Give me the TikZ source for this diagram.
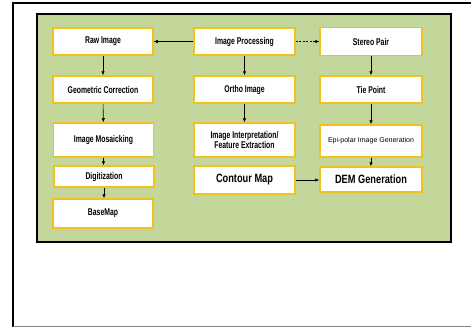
\documentclass[tikz,border=0pt]{standalone}
\usepackage{fontspec}
\setmainfont{Liberation Sans}
\newfontfamily\narrowfont{Liberation Sans}[FakeStretch=0.7]
\newfontfamily\bignarrow{Liberation Sans}[FakeStretch=0.77]
\usetikzlibrary{arrows.meta}
\definecolor{panelgreen}{HTML}{C4D79B}
\definecolor{boxyellow}{HTML}{F3C11F}
\begin{document}
\begin{tikzpicture}[x=1pt,y=-1pt,
  box/.style={draw=boxyellow,line width=1.5pt,fill=white,inner sep=0pt,align=center,
    font=\narrowfont\fontsize{9.8}{10.5}\selectfont\bfseries},
  bigbox/.style={box,font=\bignarrow\fontsize{12}{13}\selectfont\bfseries},
  smallbox/.style={box,font=\fontsize{7}{8}\selectfont},
  arr/.style={-{Latex[length=4pt,width=3.5pt]},line width=0.6pt},
  darr/.style={arr,dashed,dash pattern=on 2pt off 1.5pt}]
\useasboundingbox (0,0) rectangle (471,327);
% outer frame
\draw[line width=1.2pt] (13,327) -- (13,3) -- (471,3);
\draw[gray,line width=1pt] (13,326) -- (471,326);
% panel
\draw[line width=1.6pt,fill=panelgreen] (37,14) rectangle (451,242);
% column 1
\node[box,minimum width=100pt,minimum height=27pt] (raw) at (103,41.5) {Raw Image};
\node[box,minimum width=100pt,minimum height=27pt] (geo) at (103,89.5) {Geometric Correction};
\node[box,minimum width=100pt,minimum height=34pt] (mos) at (103.5,140) {Image Mosaicking};
\node[box,minimum width=100pt,minimum height=21pt] (dig) at (104,176.5) {Digitization};
\node[box,minimum width=100pt,minimum height=29pt] (base) at (103,213.5) {BaseMap};
% column 2
\node[box,minimum width=101pt,minimum height=27pt] (proc) at (244.5,41.5) {Image Processing};
\node[box,minimum width=101pt,minimum height=27pt] (ortho) at (244.5,89.5) {Ortho Image};
\node[box,minimum width=101pt,minimum height=34pt] (interp) at (244.5,140) {Image Interpretation/\\Feature Extraction};
\node[bigbox,minimum width=101pt,minimum height=28pt] (cont) at (244.5,180) {Contour Map};
% column 3
\node[box,minimum width=102pt,minimum height=28pt] (stereo) at (371,41.5) {Stereo Pair};
\node[box,minimum width=102pt,minimum height=27pt] (tie) at (371,89.5) {Tie Point};
\node[smallbox,minimum width=102pt,minimum height=32pt] (epi) at (371,141) {Epi-polar Image Generation};
\node[bigbox,minimum width=102pt,minimum height=25pt] (dem) at (371,179.5) {DEM Generation};
% connectors
\draw[arr] (proc) -- (raw);
\draw[darr] (proc) -- (stereo);
\draw[arr] (raw) -- (geo);
\draw[arr] (geo) -- (mos);
\draw[arr] (mos.south) -- (mos.south |- dig.north);
\draw[arr] (dig.south) -- (dig.south |- base.north);
\draw[arr] (proc) -- (ortho);
\draw[arr] (ortho) -- (interp);
\draw[arr] (stereo) -- (tie);
\draw[arr] (tie) -- (epi);
\draw[arr] (epi) -- (dem);
\draw[arr] (cont.east) -- (cont.east -| dem.west);
\end{tikzpicture}
\end{document}
